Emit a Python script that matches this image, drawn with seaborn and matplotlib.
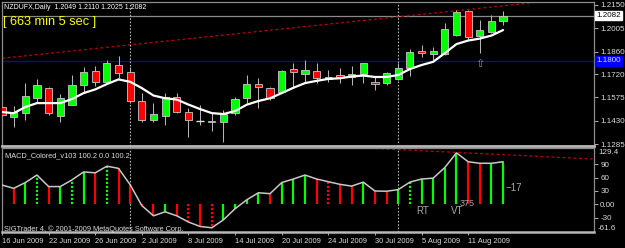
import matplotlib
matplotlib.use('Agg')
import matplotlib.pyplot as plt
import seaborn as sns
from matplotlib.patches import Rectangle

# ---------------- data ----------------
bar_index = list(range(44))
opens = [1.1517, 1.1455, 1.1477, 1.1573, 1.1632, 1.1462, 1.1528, 1.1652, 1.1739, 1.1672,
         1.1776, 1.1733, 1.1553, 1.1435, 1.1460, 1.1579, 1.1486, 1.1429, 1.1429, 1.1421,
         1.1480, 1.1570, 1.1658, 1.1632, 1.1607, 1.1749, 1.1720, 1.1737, 1.1687, 1.1716,
         1.1700, 1.1718, 1.1672, 1.1663, 1.1687, 1.1755, 1.1863, 1.1842, 1.1844, 1.1962,
         1.2111, 1.1956, 1.1982, 1.2049]
highs = [1.1563, 1.1522, 1.1666, 1.1687, 1.1641, 1.1596, 1.1714, 1.1765, 1.1770, 1.1807,
         1.1834, 1.1764, 1.1601, 1.1539, 1.1601, 1.1604, 1.1508, 1.1528, 1.1477, 1.1497,
         1.1579, 1.1714, 1.1695, 1.1641, 1.1745, 1.1790, 1.1807, 1.1790, 1.1745, 1.1755,
         1.1770, 1.1790, 1.1700, 1.1734, 1.1786, 1.1873, 1.1900, 1.1889, 1.2038, 1.2117,
         1.2117, 1.2055, 1.2086, 1.2110]
lows = [1.1404, 1.1390, 1.1435, 1.1548, 1.1466, 1.1424, 1.1526, 1.1610, 1.1648, 1.1663,
        1.1694, 1.1539, 1.1424, 1.1424, 1.1404, 1.1480, 1.1331, 1.1404, 1.1369, 1.1300,
        1.1466, 1.1539, 1.1509, 1.1559, 1.1601, 1.1641, 1.1666, 1.1663, 1.1672, 1.1666,
        1.1652, 1.1666, 1.1621, 1.1652, 1.1683, 1.1708, 1.1827, 1.1807, 1.1838, 1.1956,
        1.1931, 1.1849, 1.1972, 1.2025]
closes = [1.1466, 1.1483, 1.1586, 1.1652, 1.1477, 1.1570, 1.1652, 1.1734, 1.1669, 1.1787,
          1.1724, 1.1556, 1.1435, 1.1472, 1.1576, 1.1486, 1.1435, 1.1429, 1.1421, 1.1472,
          1.1563, 1.1656, 1.1638, 1.1573, 1.1739, 1.1731, 1.1745, 1.1694, 1.1700, 1.1700,
          1.1720, 1.1787, 1.1660, 1.1724, 1.1755, 1.1857, 1.1849, 1.1863, 1.1997, 1.2106,
          1.1948, 1.1993, 1.2051, 1.2082]
ma_values = [1.1485, 1.1477, 1.1516, 1.1540, 1.1540, 1.1540, 1.1565, 1.1602, 1.1625, 1.1658,
             1.1687, 1.1672, 1.1633, 1.1587, 1.1570, 1.1562, 1.1531, 1.1503, 1.1478, 1.1472,
             1.1491, 1.1530, 1.1553, 1.1570, 1.1602, 1.1635, 1.1664, 1.1678, 1.1690, 1.1694,
             1.1705, 1.1711, 1.1702, 1.1702, 1.1714, 1.1751, 1.1776, 1.1796, 1.1850, 1.1906,
             1.1928, 1.1940, 1.1959, 1.1993]
macd_values = [43.5, 36, 49, 66, 40, 40, 55, 73, 71, 86,
               81, 44, -3, -26, -17, -26, -40, -50, -53, -35,
               -10, 10, 26, 24, 49, 57, 66, 57, 51, 45,
               41, 50, 30, 29.5, 33, 50, 57, 59, 83, 116,
               96, 92.5, 92.5, 96]
macd_dir = ['r', 'r', 'g', 'g', 'r', 'g', 'g', 'g', 'r', 'g',
            'r', 'r', 'r', 'r', 'g', 'r', 'r', 'r', 'r', 'g',
            'g', 'g', 'g', 'r', 'g', 'g', 'g', 'r', 'r', 'r',
            'r', 'g', 'r', 'r', 'g', 'g', 'g', 'g', 'g', 'g',
            'r', 'r', 'g', 'g']
macd_dotted = [3, 6, 9, 16, 18, 28, 35]
date_positions = [0, 4, 8, 12, 16, 20, 24, 28, 32, 36, 40]
date_labels = ['16 Jun 2009', '22 Jun 2009', '26 Jun 2009', '2 Jul 2009', '8 Jul 2009',
               '14 Jul 2009', '20 Jul 2009', '24 Jul 2009', '30 Jul 2009', '5 Aug 2009',
               '11 Aug 2009']
price_ticks = [1.2150, 1.2005, 1.1860, 1.1720, 1.1575, 1.1430, 1.1285]
price_tick_labels = ['1.2150', '1.2005', '1.1860', '1.1720', '1.1575', '1.1430', '1.1285']
macd_ticks = [90, 60, 30, 0, -30]
macd_tick_labels = ['90', '60', '30', '0.00', '-30']
month_separators = [11, 34]
trend_x = [0, 60]
trend_y = [1.1818, 1.2272]
macd_trend_x = [31.6, 50.8]
macd_trend_y = [126.5, 102.0]
current_price = 1.2082
level_price = 1.1800

# ---------------- style ----------------
sns.set_theme(style='dark', rc={'axes.facecolor': 'black', 'figure.facecolor': 'black'})
plt.rcParams['font.family'] = ['Liberation Sans', 'DejaVu Sans']

W, H = 625, 248
fig = plt.figure(figsize=(W / 100, H / 100), dpi=100, facecolor='black')


def px_axes(x0, y0, x1, y1):
    return fig.add_axes([x0 / W, 1 - y1 / H, (x1 - x0) / W, (y1 - y0) / H])


ax1 = px_axes(2, 2, 594, 146)
ax2 = px_axes(2, 148, 594, 232)

XMAX = 50.8
GREEN = '#00FF00'
RED = '#FF0000'
TXT = '#DCDCDC'

for ax in (ax1, ax2):
    ax.set_facecolor('black')
    ax.set_xlim(0, XMAX)
    for s in ax.spines.values():
        s.set_color('#8C8C8C')
        s.set_linewidth(0.9)
        s.set_visible(True)
    ax.grid(False)
    ax.yaxis.tick_right()
    ax.tick_params(axis='y', which='both', direction='out', length=3, width=0.7,
                   color='#B0B0B0', labelcolor=TXT, labelsize=5.8, pad=1.5, right=True, left=False)
ax1.spines['bottom'].set_color('#B8B8B8')
ax1.spines['bottom'].set_linewidth(2.0)
ax2.spines['bottom'].set_color('#B8B8B8')
ax2.spines['bottom'].set_linewidth(1.8)

ax1.set_ylim(1.1274, 1.2167)
ax2.set_ylim(-62.5, 127.0)

# ---- main panel ----
ax1.axhline(level_price, color='#0000E0', lw=0.9, zorder=1)
ax1.axhline(current_price, color='#8A8A8A', lw=0.9, zorder=1)
ax1.plot(trend_x, trend_y, color='#C00000', lw=0.9, dashes=(2.2, 2.2), zorder=1)
for ax in (ax1, ax2):
    for m in month_separators:
        ax.axvline(m, color='#B8B8B8', lw=0.8, dashes=(1.5, 1.5), zorder=1)

body_w = 0.62
for i, o, h, l, c in zip(bar_index, opens, highs, lows, closes):
    ax1.vlines(i, l, h, color='#B4B4B4', lw=0.75, zorder=2)
    if c > o:
        col = GREEN
    elif c < o:
        col = RED
    else:
        col = None
    if col is None:
        ax1.hlines(o, i - body_w / 2, i + body_w / 2, color='#E0E0E0', lw=1.0, zorder=3)
    else:
        ax1.add_patch(Rectangle((i - body_w / 2, min(o, c)), body_w, max(abs(c - o), 0.0004),
                                facecolor=col, edgecolor='#C8C8C8', lw=0.6, zorder=3))

sns.lineplot(x=bar_index, y=ma_values, ax=ax1, color='white', lw=1.6, zorder=4)

ax1.set_yticks(price_ticks)
ax1.set_yticklabels(price_tick_labels)
ax1.set_xticks([])
ax1.set_xlabel('')
ax1.set_ylabel('')

# ---- MACD panel ----
for i, v, d in zip(bar_index, macd_values, macd_dir):
    col = GREEN if d == 'g' else RED
    style = (0, (1, 0.8)) if i in macd_dotted else 'solid'
    ax2.vlines(i, 0, v, color=col, lw=1.6, linestyles=style, zorder=2)
sns.lineplot(x=bar_index, y=macd_values, ax=ax2, color='#C8C8C8', lw=1.1, zorder=3)
ax2.plot(macd_trend_x, macd_trend_y, color='#C00000', lw=0.9, dashes=(2.2, 2.2), zorder=1)

ax2.set_yticks(macd_ticks)
ax2.set_yticklabels(macd_tick_labels)
ax2.set_xticks(date_positions)
ax2.set_xticklabels(date_labels, ha='left')
ax2.tick_params(axis='x', direction='out', length=2.5, width=0.7, color='#B0B0B0',
                labelcolor=TXT, labelsize=5.4, pad=1.5, bottom=True)
ax2.set_xlabel('')
ax2.set_ylabel('')


def ftext(x, y, s, **kw):
    fig.text(x / W, 1 - y / H, s, **kw)


# right-hand extras
ftext(598, 148.5, '129.4', color=TXT, fontsize=5.8, va='top', ha='left')
ftext(598, 228, '-61.6', color=TXT, fontsize=5.8, va='center', ha='left')
ftext(596.5, 15.5, '1.2082', color='black', fontsize=5.8, va='center', ha='left',
      bbox=dict(boxstyle='square,pad=0.15', fc='white', ec='white'))
ftext(596.5, 61, '1.1800', color='#D8D8FF', fontsize=5.8, va='center', ha='left',
      bbox=dict(boxstyle='square,pad=0.15', fc='#0000FF', ec='#0000FF'))

# annotations
ftext(4, 7.5, 'NZDUFX,Daily  1.2049 1.2110 1.2025 1.2082', color='white', fontsize=5.0,
      va='center', ha='left')
ftext(3, 21.5, '[ 663 min 5 sec ]', color='#FFFF00', fontsize=9.2, va='center', ha='left')
ftext(5, 156, 'MACD_Colored_v103 100.2 0.0 100.2', color=TXT, fontsize=5.3, va='center', ha='left')
ftext(4, 229, 'SIGTrader 4, \u00a9 2001-2009 MetaQuotes Software Corp.', color=TXT, fontsize=5.3,
      va='center', ha='left')
ftext(416, 211.5, 'RT', color='#A8A8A8', fontsize=7, va='center', ha='left')
ftext(451, 211.5, 'VT', color='#A8A8A8', fontsize=7, va='center', ha='left')
ftext(460, 203.5, '375', color='#A8A8A8', fontsize=6.5, va='center', ha='left')
ftext(505, 188, '\u221217', color='#A8A8A8', fontsize=7, va='center', ha='left')
ftext(480, 64, '\u21e7', color='#8090A8', fontsize=8, va='center', ha='center',
      family=['DejaVu Sans'])

fig.savefig('out.png', dpi=100, facecolor='black')
